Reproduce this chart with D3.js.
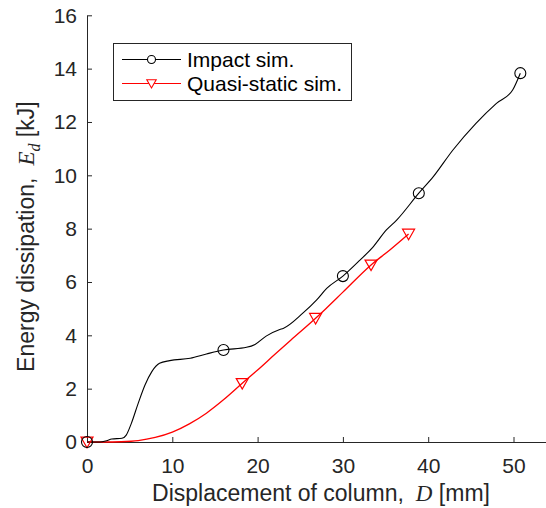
<!DOCTYPE html>
<html>
<head>
<meta charset="utf-8">
<script src="https://cdn.jsdelivr.net/npm/d3@7"></script>
<style>
  body { margin: 0; background: #fff; }
  svg { display: block; font-family: "Liberation Sans", Arial, sans-serif; }
</style>
</head>
<body>
<script>
// Données
const impactD = [0, 1.5, 2.3, 2.9, 4.1, 4.6, 5.2, 6.0, 6.8, 7.6, 8.5, 9.7, 12.1, 14.0, 16.0, 18.7, 19.7, 21.0, 22.6, 23.0, 25.3, 26.9, 28.1, 30.0, 32.0, 33.5, 35.1, 36.3, 38.9, 40.6, 42.9, 45.6, 48.0, 49.9, 50.8];
const impactE = [0, 0, 0.05, 0.11, 0.14, 0.26, 0.7, 1.45, 2.14, 2.64, 2.95, 3.05, 3.14, 3.3, 3.45, 3.55, 3.66, 3.97, 4.22, 4.26, 4.83, 5.32, 5.76, 6.22, 6.82, 7.3, 7.95, 8.32, 9.33, 9.95, 10.95, 11.95, 12.7, 13.2, 13.83];
const impactMarkers = [0, 14, 23, 28, 34]; // indices des cercles

const quasiD = [0, 2, 4, 6, 8, 10, 12, 14, 16, 18.2, 20, 22, 24, 26.8, 28, 30, 33.3, 35.5, 37.7];
const quasiE = [0, 0, 0.01, 0.05, 0.17, 0.37, 0.68, 1.08, 1.58, 2.2, 2.7, 3.28, 3.85, 4.64, 5.0, 5.62, 6.64, 7.2, 7.8];
const quasiMarkers = [0, 9, 13, 16, 18]; // indices des triangles

const xTicks = [0, 10, 20, 30, 40, 50];
const yTicks = [0, 2, 4, 6, 8, 10, 12, 14, 16];

const axisColor = "#262626";
const width = 546, height = 508;

const svg = d3.select("body").append("svg")
    .attr("width", width)
    .attr("height", height);

svg.append("rect").attr("width", width).attr("height", height).attr("fill", "#fff");

// Échelles
const x = d3.scaleLinear().domain([0, 55]).range([87, 87 + 55 * 8.53]);
const y = d3.scaleLinear().domain([0, 16]).range([442, 15.3]);

// Axes (ticks vers l'intérieur, style MATLAB)
const xAxis = svg.append("g")
    .attr("transform", `translate(0,${y(0)})`)
    .call(d3.axisBottom(x).tickValues(xTicks).tickSizeInner(-5).tickSizeOuter(0).tickPadding(16));

const yAxis = svg.append("g")
    .attr("transform", `translate(${x(0)},0)`)
    .call(d3.axisLeft(y).tickValues(yTicks).tickSizeInner(-5).tickSizeOuter(0).tickPadding(10));

[xAxis, yAxis].forEach(g => {
    g.attr("font-family", null).attr("font-size", null);
    g.select(".domain").attr("stroke", axisColor).attr("stroke-width", 1);
    g.selectAll(".tick line").attr("stroke", axisColor);
    g.selectAll(".tick text").attr("fill", axisColor).style("font-size", "21px");
});

// Titres des axes
const xLabel = svg.append("text")
    .attr("x", 321)
    .attr("y", 501)
    .attr("text-anchor", "middle")
    .attr("fill", axisColor)
    .style("font-size", "23px");
xLabel.append("tspan").text("Displacement of column,");
xLabel.append("tspan").attr("dx", 12).style("font-family", "'Liberation Serif', serif").style("font-style", "italic").text("D");
xLabel.append("tspan").text(" [mm]");

const yLabel = svg.append("text")
    .attr("transform", `translate(34,${(y(0) + y(16)) / 2 + 8}) rotate(-90)`)
    .attr("text-anchor", "middle")
    .attr("fill", axisColor)
    .style("font-size", "23px");
yLabel.append("tspan").text("Energy dissipation,");
yLabel.append("tspan").attr("dx", 12).style("font-family", "'Liberation Serif', serif").style("font-style", "italic").text("E");
yLabel.append("tspan").style("font-family", "'Liberation Serif', serif").style("font-style", "italic")
    .style("font-size", "16px").attr("dy", "6").text("d");
yLabel.append("tspan").attr("dy", "-6").text(" [kJ]");

// Courbes
const line = d3.line()
    .x(d => x(d[0]))
    .y(d => y(d[1]))
    .curve(d3.curveMonotoneX);

const impactData = impactD.map((d, i) => [d, impactE[i]]);
const quasiData = quasiD.map((d, i) => [d, quasiE[i]]);

svg.append("path")
    .datum(quasiData)
    .attr("fill", "none")
    .attr("stroke", "#ff0000")
    .attr("stroke-width", 1.3)
    .attr("d", line);

svg.append("path")
    .datum(impactData)
    .attr("fill", "none")
    .attr("stroke", "#000")
    .attr("stroke-width", 1.1)
    .attr("d", line);

// Marqueurs
const triangle = (cx, cy, s) =>
    `M${cx - s},${cy - s * 0.8}L${cx + s},${cy - s * 0.8}L${cx},${cy + s * 0.95}Z`;

svg.selectAll(".m-quasi")
    .data(quasiMarkers.map(i => quasiData[i]))
    .join("path")
    .attr("class", "m-quasi")
    .attr("d", d => triangle(x(d[0]), y(d[1]), 6))
    .attr("fill", "none")
    .attr("stroke", "#ff0000")
    .attr("stroke-width", 1.2);

svg.selectAll(".m-impact")
    .data(impactMarkers.map(i => impactData[i]))
    .join("circle")
    .attr("class", "m-impact")
    .attr("cx", d => x(d[0]))
    .attr("cy", d => y(d[1]))
    .attr("r", 5.5)
    .attr("fill", "none")
    .attr("stroke", "#000")
    .attr("stroke-width", 1.1);

// Légende
const legend = svg.append("g");
legend.append("rect")
    .attr("x", 113.5).attr("y", 43.5)
    .attr("width", 238).attr("height", 57)
    .attr("fill", "#fff")
    .attr("stroke", axisColor);

const legendItems = [
    { label: "Impact sim.", color: "#000", marker: "circle" },
    { label: "Quasi-static sim.", color: "#ff0000", marker: "triangle" }
];

legendItems.forEach((it, i) => {
    const cy = 59.5 + i * 24;
    legend.append("line")
        .attr("x1", 122).attr("x2", 181)
        .attr("y1", cy).attr("y2", cy)
        .attr("stroke", it.color)
        .attr("stroke-width", 1.1);
    if (it.marker === "circle") {
        legend.append("circle")
            .attr("cx", 151.5).attr("cy", cy).attr("r", 4)
            .attr("fill", "#fff").attr("stroke", it.color).attr("stroke-width", 1.1);
    } else {
        legend.append("path")
            .attr("d", triangle(151.5, cy, 4.7))
            .attr("fill", "#fff").attr("stroke", it.color).attr("stroke-width", 1.1);
    }
    legend.append("text")
        .attr("x", 187).attr("y", cy)
        .attr("dy", "0.36em")
        .attr("fill", "#000")
        .style("font-size", "21px")
        .text(it.label);
});
</script>
</body>
</html>
